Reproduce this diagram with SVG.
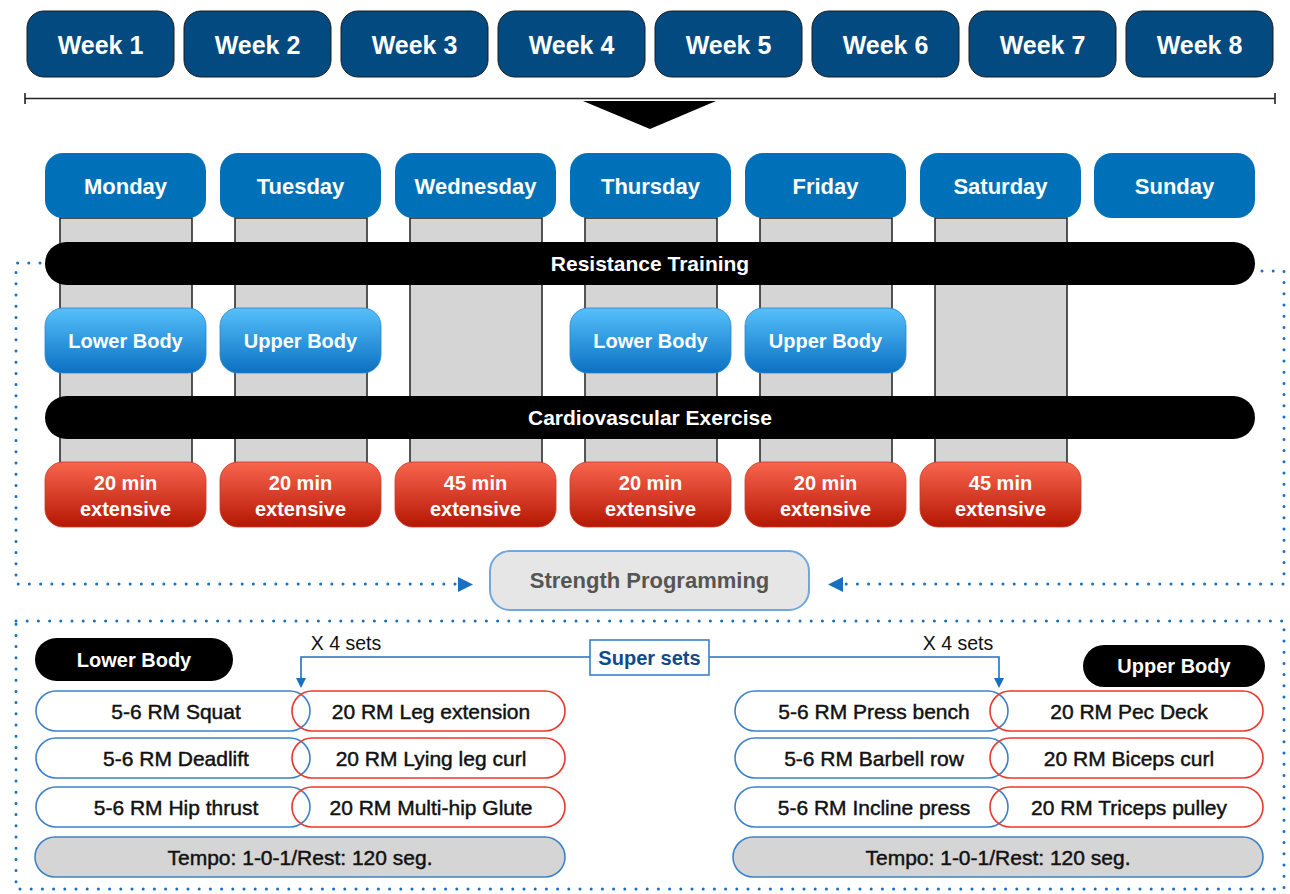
<svg xmlns="http://www.w3.org/2000/svg" width="1290" height="894" viewBox="0 0 1290 894">
<defs>
<linearGradient id="gBlue" x1="0" y1="0" x2="0" y2="1"><stop offset="0" stop-color="#56c0fb"/><stop offset="1" stop-color="#0b70c2"/></linearGradient>
<linearGradient id="gRed" x1="0" y1="0" x2="0" y2="1"><stop offset="0" stop-color="#f9654e"/><stop offset="1" stop-color="#b41703"/></linearGradient>
<style>
text{font-family:"Liberation Sans",Arial,sans-serif;text-anchor:middle}
.week rect{fill:#034a80;stroke:#1a1a1a;stroke-width:1}
.week text{fill:#fff;font-weight:bold;font-size:25px}
.day rect{fill:#0071b8}
.day text{fill:#fff;font-weight:bold;font-size:22px}
.col{fill:#d5d5d5;stroke:#222;stroke-width:1.5}
.bar rect{fill:#000}
.bar text{fill:#fff;font-weight:bold;font-size:21px}
.bb rect{fill:url(#gBlue);stroke:#2a86cc;stroke-width:0.8}
.bb text{fill:#fff;font-weight:bold;font-size:20px}
.rb rect{fill:url(#gRed);stroke:#c93a25;stroke-width:0.8}
.rb text{fill:#fff;font-weight:bold;font-size:20px}
.dot{fill:none;stroke:#1a6fc0;stroke-width:3;stroke-dasharray:0 11.2;stroke-linecap:round}
.ah{fill:#1a6fc0}
.pb{fill:none;stroke:#3c82c9;stroke-width:1.6}
.pr{fill:none;stroke:#e8392f;stroke-width:1.6}
.ex{fill:#111;font-size:21px;stroke:#111;stroke-width:0.45}
.tempo{fill:#d5d5d5;stroke:#3c82c9;stroke-width:1.6}
.pill rect{fill:#000}
.pill text{fill:#fff;font-weight:bold;font-size:20px}
.conn{fill:none;stroke:#1f72c4;stroke-width:1.6}
</style>
</defs>
<rect width="1290" height="894" fill="#fff"/>

<g id="weeks">
<g id="week1" class="week"><rect x="27" y="11" width="147" height="66" rx="17"/><text x="100.5" y="54">Week 1</text></g>
<g id="week2" class="week"><rect x="184" y="11" width="147" height="66" rx="17"/><text x="257.5" y="54">Week 2</text></g>
<g id="week3" class="week"><rect x="341" y="11" width="147" height="66" rx="17"/><text x="414.5" y="54">Week 3</text></g>
<g id="week4" class="week"><rect x="498" y="11" width="147" height="66" rx="17"/><text x="571.5" y="54">Week 4</text></g>
<g id="week5" class="week"><rect x="655" y="11" width="147" height="66" rx="17"/><text x="728.5" y="54">Week 5</text></g>
<g id="week6" class="week"><rect x="812" y="11" width="147" height="66" rx="17"/><text x="885.5" y="54">Week 6</text></g>
<g id="week7" class="week"><rect x="969" y="11" width="147" height="66" rx="17"/><text x="1042.5" y="54">Week 7</text></g>
<g id="week8" class="week"><rect x="1126" y="11" width="147" height="66" rx="17"/><text x="1199.5" y="54">Week 8</text></g>
</g>

<g id="timeline">
<path d="M25 98.5H1275M25 93V104M1275 93V104" stroke="#222" stroke-width="1.6" fill="none"/>
<polygon points="583,101 716,101 650,129" fill="#000"/>
</g>

<g id="columns">
<rect class="col" x="60" y="218" width="132" height="245"/>
<rect class="col" x="235" y="218" width="132" height="245"/>
<rect class="col" x="410" y="218" width="132" height="245"/>
<rect class="col" x="585" y="218" width="132" height="245"/>
<rect class="col" x="760" y="218" width="132" height="245"/>
<rect class="col" x="935" y="218" width="132" height="245"/>
</g>

<g id="days">
<g id="monday" class="day"><rect x="45" y="153" width="161" height="65" rx="18"/><text x="125.5" y="194">Monday</text></g>
<g id="tuesday" class="day"><rect x="220" y="153" width="161" height="65" rx="18"/><text x="300.5" y="194">Tuesday</text></g>
<g id="wednesday" class="day"><rect x="395" y="153" width="161" height="65" rx="18"/><text x="475.5" y="194">Wednesday</text></g>
<g id="thursday" class="day"><rect x="570" y="153" width="161" height="65" rx="18"/><text x="650.5" y="194">Thursday</text></g>
<g id="friday" class="day"><rect x="745" y="153" width="161" height="65" rx="18"/><text x="825.5" y="194">Friday</text></g>
<g id="saturday" class="day"><rect x="920" y="153" width="161" height="65" rx="18"/><text x="1000.5" y="194">Saturday</text></g>
<g id="sunday" class="day"><rect x="1094" y="153" width="161" height="65" rx="18"/><text x="1174.5" y="194">Sunday</text></g>
</g>

<g id="resistance-training" class="bar"><rect x="45" y="242" width="1210" height="43" rx="21.5"/><text x="650" y="271">Resistance Training</text></g>

<g id="rt-days">
<g id="mon-lower" class="bb"><rect x="45" y="308" width="161" height="65" rx="18"/><text x="125.5" y="348">Lower Body</text></g>
<g id="tue-upper" class="bb"><rect x="220" y="308" width="161" height="65" rx="18"/><text x="300.5" y="348">Upper Body</text></g>
<g id="thu-lower" class="bb"><rect x="570" y="308" width="161" height="65" rx="18"/><text x="650.5" y="348">Lower Body</text></g>
<g id="fri-upper" class="bb"><rect x="745" y="308" width="161" height="65" rx="18"/><text x="825.5" y="348">Upper Body</text></g>
</g>

<g id="cardiovascular-exercise" class="bar"><rect x="45" y="396" width="1210" height="43" rx="21.5"/><text x="650" y="425">Cardiovascular Exercise</text></g>

<g id="cardio-days">
<g id="mon-cardio" class="rb"><rect x="45" y="462" width="161" height="65" rx="18"/><text x="125.5" y="490">20 min</text><text x="125.5" y="516">extensive</text></g>
<g id="tue-cardio" class="rb"><rect x="220" y="462" width="161" height="65" rx="18"/><text x="300.5" y="490">20 min</text><text x="300.5" y="516">extensive</text></g>
<g id="wed-cardio" class="rb"><rect x="395" y="462" width="161" height="65" rx="18"/><text x="475.5" y="490">45 min</text><text x="475.5" y="516">extensive</text></g>
<g id="thu-cardio" class="rb"><rect x="570" y="462" width="161" height="65" rx="18"/><text x="650.5" y="490">20 min</text><text x="650.5" y="516">extensive</text></g>
<g id="fri-cardio" class="rb"><rect x="745" y="462" width="161" height="65" rx="18"/><text x="825.5" y="490">20 min</text><text x="825.5" y="516">extensive</text></g>
<g id="sat-cardio" class="rb"><rect x="920" y="462" width="161" height="65" rx="18"/><text x="1000.5" y="490">45 min</text><text x="1000.5" y="516">extensive</text></g>
</g>

<g id="strength-programming"><rect x="490" y="551" width="319" height="59" rx="20" fill="#e6e6e6" stroke="#6fa8dc" stroke-width="2"/><text x="649.5" y="588" font-size="22" font-weight="bold" fill="#555">Strength Programming</text></g>

<g id="connectors">
<path class="dot" d="M40 263H16V584H458"/>
<polygon class="ah" points="458,577 473,584.5 458,592"/>
<path class="dot" d="M1262 271H1284V584H846"/>
<polygon class="ah" points="843,577 828,584.5 843,592"/>
<rect class="dot" x="16" y="621" width="1268" height="268"/>
<path class="conn" d="M590 657H301V680"/>
<polygon class="ah" points="296,678 306,678 301,688"/>
<path class="conn" d="M709 657H999V680"/>
<polygon class="ah" points="994,678 1004,678 999,688"/>
</g>

<g id="super-sets"><rect x="590" y="640" width="119" height="35" fill="#fff" stroke="#2f78c4" stroke-width="1.5"/><text x="649.5" y="665" font-size="20" font-weight="bold" fill="#0d4b8c">Super sets</text></g>
<g id="sets-left"><text x="346" y="650" font-size="19.5" fill="#111">X 4 sets</text></g>
<g id="sets-right"><text x="958" y="650" font-size="19.5" fill="#111">X 4 sets</text></g>

<g id="lower-body-label" class="pill"><rect x="35" y="638" width="198" height="43" rx="21.5"/><text x="134" y="667">Lower Body</text></g>
<g id="upper-body-label" class="pill"><rect x="1083" y="645" width="182" height="42" rx="21"/><text x="1174" y="673">Upper Body</text></g>

<g id="lower-exercises">
<g id="squat"><rect class="pb" x="36" y="691" width="274" height="40" rx="20"/><text class="ex" x="176" y="719">5-6 RM Squat</text></g>
<g id="leg-extension"><rect class="pr" x="292" y="691" width="273" height="40" rx="20"/><text class="ex" x="431" y="719">20 RM Leg extension</text></g>
<g id="deadlift"><rect class="pb" x="36" y="738" width="274" height="40" rx="20"/><text class="ex" x="176" y="766">5-6 RM Deadlift</text></g>
<g id="lying-leg-curl"><rect class="pr" x="292" y="738" width="273" height="40" rx="20"/><text class="ex" x="431" y="766">20 RM Lying leg curl</text></g>
<g id="hip-thrust"><rect class="pb" x="36" y="787" width="274" height="40" rx="20"/><text class="ex" x="176" y="815">5-6 RM Hip thrust</text></g>
<g id="multi-hip-glute"><rect class="pr" x="292" y="787" width="273" height="40" rx="20"/><text class="ex" x="431" y="815">20 RM Multi-hip Glute</text></g>
<g id="tempo-lower"><rect class="tempo" x="35" y="837" width="530" height="40" rx="20"/><text class="ex" x="300" y="865">Tempo: 1-0-1/Rest: 120 seg.</text></g>
</g>

<g id="upper-exercises">
<g id="press-bench"><rect class="pb" x="735" y="691" width="273" height="40" rx="20"/><text class="ex" x="874" y="719">5-6 RM Press bench</text></g>
<g id="pec-deck"><rect class="pr" x="990" y="691" width="273" height="40" rx="20"/><text class="ex" x="1129" y="719">20 RM Pec Deck</text></g>
<g id="barbell-row"><rect class="pb" x="735" y="738" width="273" height="40" rx="20"/><text class="ex" x="874" y="766">5-6 RM Barbell row</text></g>
<g id="biceps-curl"><rect class="pr" x="990" y="738" width="273" height="40" rx="20"/><text class="ex" x="1129" y="766">20 RM Biceps curl</text></g>
<g id="incline-press"><rect class="pb" x="735" y="787" width="273" height="40" rx="20"/><text class="ex" x="874" y="815">5-6 RM Incline press</text></g>
<g id="triceps-pulley"><rect class="pr" x="990" y="787" width="273" height="40" rx="20"/><text class="ex" x="1129" y="815">20 RM Triceps pulley</text></g>
<g id="tempo-upper"><rect class="tempo" x="733" y="837" width="530" height="40" rx="20"/><text class="ex" x="998" y="865">Tempo: 1-0-1/Rest: 120 seg.</text></g>
</g>
</svg>
